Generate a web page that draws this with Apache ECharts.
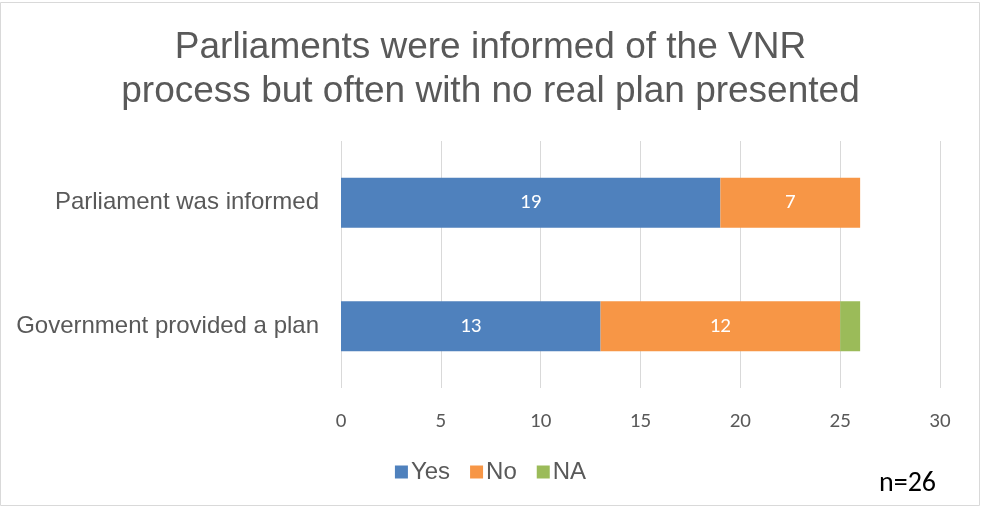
<!DOCTYPE html>
<html>
<head>
<meta charset="utf-8">
<script src="https://cdn.jsdelivr.net/npm/echarts@6/dist/echarts.min.js"></script>
<style>
  html, body { margin: 0; padding: 0; background: #fff; }
  #chart { width: 981px; height: 508px; }
</style>
</head>
<body>
<div id="chart"></div>
<script>
// data
var categories = ['Government provided a plan', 'Parliament was informed']
var yesValues = [13, 19]
var noValues = [12, 7]
var naValues = [1, 0]
var xTicks = [0, 5, 10, 15, 20, 25, 30]

var myChart = echarts.init(document.getElementById('chart'))
var font = 'Liberation Sans'
var numFont = 'Carlito, Lato'

var barLabel = {
  show: true,
  position: 'inside',
  color: '#fff',
  fontSize: 21,
  fontFamily: numFont
}

var option = {
  animation: false,
  title: {
    text: 'Parliaments were informed of the VNR\nprocess but often with no real plan presented',
    left: 'center',
    top: 21,
    textStyle: {
      color: '#595959',
      fontFamily: font,
      fontWeight: 'normal',
      fontSize: 37,
      lineHeight: 44
    }
  },
  legend: {
    top: 455,
    left: 'center',
    itemWidth: 13,
    itemHeight: 13,
    itemGap: 20,
    icon: 'rect',
    textStyle: { color: '#595959', fontSize: 24, fontFamily: font, padding: [0, 0, 0, -2] },
    data: ['Yes', 'No', 'NA']
  },
  grid: {
    left: 341,
    right: 41,
    top: 141,
    bottom: 120,
    containLabel: false
  },
  xAxis: {
    type: 'value',
    min: xTicks[0],
    max: xTicks[xTicks.length - 1],
    interval: 5,
    axisLine: { show: false },
    axisTick: { show: false },
    splitLine: { lineStyle: { color: '#d9d9d9', width: 1 } },
    axisLabel: { color: '#595959', fontSize: 21, fontFamily: numFont, margin: 23 }
  },
  yAxis: {
    type: 'category',
    data: categories,
    axisLine: { show: false },
    axisTick: { show: false },
    axisLabel: { color: '#595959', fontSize: 24, fontFamily: font, margin: 22 }
  },
  series: [
    {
      name: 'Yes', type: 'bar', stack: 'a', data: yesValues, barWidth: 50,
      itemStyle: { color: '#4F81BD' }, label: barLabel
    },
    {
      name: 'No', type: 'bar', stack: 'a', data: noValues, barWidth: 50,
      itemStyle: { color: '#F79646' }, label: barLabel
    },
    {
      name: 'NA', type: 'bar', stack: 'a', data: naValues, barWidth: 50,
      itemStyle: { color: '#9BBB59' }, label: { show: false }
    }
  ],
  graphic: [
    {
      type: 'rect',
      shape: { x: 0.5, y: 2.5, width: 979, height: 503 },
      style: { fill: 'none', stroke: '#d9d9d9', lineWidth: 1 },
      silent: true
    },
    {
      type: 'text',
      left: 879,
      top: 470,
      style: { text: 'n=26', fill: '#000', fontSize: 28, fontFamily: numFont }
    }
  ]
}

myChart.setOption(option)
</script>
</body>
</html>
